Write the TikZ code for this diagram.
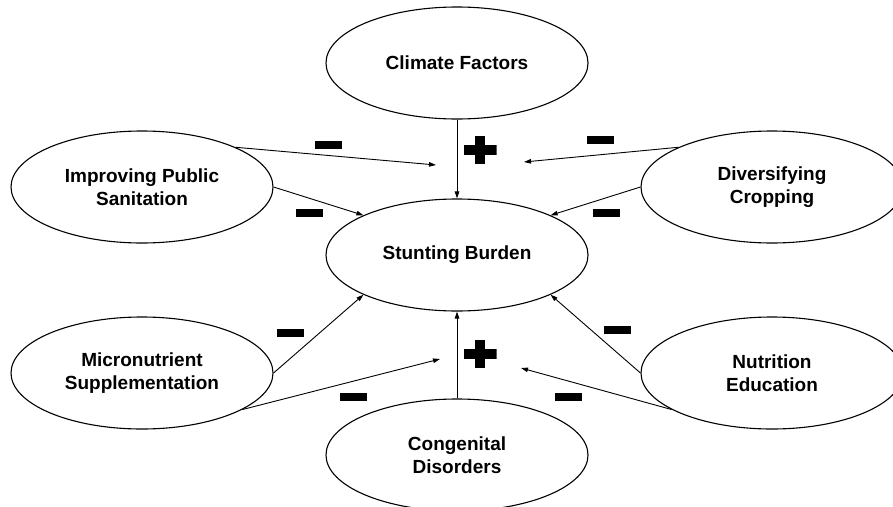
\documentclass[tikz,border=0pt]{standalone}
\usepackage{fontspec}
\setmainfont{Liberation Sans}
\usetikzlibrary{shapes.geometric,arrows.meta}
\tikzset{
	factor/.style={draw, ellipse, line width=1.1pt, minimum width=262pt, minimum height=112pt, inner sep=0pt, align=center, font=\fontsize{19}{23}\selectfont\bfseries},
	link/.style={-{Triangle[length=7pt,width=4.5pt]}, line width=0.9pt},
	negsign/.style={fill, inner sep=0pt, minimum width=27pt, minimum height=8pt},
	possign/.style={inner sep=0pt, minimum width=33pt, minimum height=28pt,
		path picture={
			\fill (path picture bounding box.center) ++(-16.5pt,-5pt) rectangle ++(33pt,10pt);
			\fill (path picture bounding box.center) ++(-5pt,-14pt) rectangle ++(10pt,28pt);
		}}
}
\begin{document}
\begin{tikzpicture}[x=1pt,y=-1pt]
	\useasboundingbox (0,0) rectangle (893,506);
	\node[factor] (clim) at (457,63) {Climate Factors};
	\node[factor] (imp) at (142,187) {Improving Public\\Sanitation};
	\node[factor] (div) at (772,187) {Diversifying\\Cropping};
	\node[factor] (stunt) at (457,255) {Stunting Burden};
	\node[factor] (mic) at (142,373) {Micronutrient\\Supplementation};
	\node[factor] (nut) at (772,373) {Nutrition\\Education};
	\node[factor] (cong) at (457,455) {Congenital\\Disorders};
	\coordinate (tgt1) at (436,165);
	\coordinate (tgt2) at (524,162);
	\coordinate (tgt3) at (440,359);
	\coordinate (tgt4) at (521,368);
	\draw[link] (clim) -- (stunt);
	\draw[link] (cong) -- (stunt);
	\draw[link] (imp.23) -- (tgt1);
	\draw[link] (imp.east) -- (stunt.157);
	\draw[link] (div.157) -- (tgt2);
	\draw[link] (div.west) -- (stunt.23);
	\draw[link] (mic.east) -- (stunt.203);
	\draw[link] (mic.340) -- (tgt3);
	\draw[link] (nut.west) -- (stunt.337);
	\draw[link] (nut.200) -- (tgt4);
	\node[negsign] (n1) at (328,145) {};
	\node[negsign] (n2) at (600,140) {};
	\node[negsign] (n3) at (309,213) {};
	\node[negsign] (n4) at (606,213) {};
	\node[negsign] (n5) at (290,333) {};
	\node[negsign] (n6) at (617,330) {};
	\node[negsign] (n7) at (353,397) {};
	\node[negsign] (n8) at (568,397) {};
	\node[possign] (p1) at (480,150) {};
	\node[possign] (p2) at (480,354) {};
\end{tikzpicture}
\end{document}
